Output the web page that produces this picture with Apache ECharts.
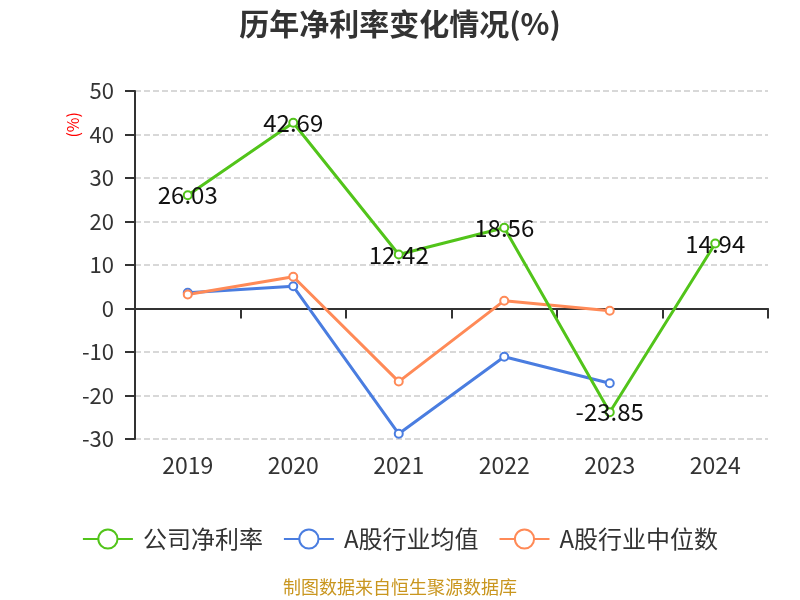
<!DOCTYPE html>
<html><head><meta charset="utf-8">
<script src="https://cdn.jsdelivr.net/npm/echarts@6/dist/echarts.min.js"></script>
<style>html,body{margin:0;padding:0;background:#fff}#c{width:800px;height:600px}</style>
</head><body><div id="c"></div>
<script>
var categories = ['2019','2020','2021','2022','2023','2024'];
var companyRate = [26.03, 42.69, 12.42, 18.56, -23.85, 14.94];
var industryAvg = [3.6, 5.1, -28.8, -11.1, -17.2, null];
var industryMedian = [3.2, 7.3, -16.8, 1.8, -0.5, null];
var yTicks = {min: -30, max: 50, interval: 10};

var chart = echarts.init(document.getElementById('c'));
var font = '"Noto Sans CJK SC", "Noto Sans", sans-serif';
function mk(name, data, color, label) {
  return {
    name: name, type: 'line', data: data, xAxisIndex: 0,
    symbol: 'emptyCircle', symbolSize: 8, connectNulls: false,
    lineStyle: {color: color, width: 3},
    itemStyle: {color: color, borderWidth: 1.5},
    label: label ? {show: true, position: 'inside', color: '#111', fontSize: 24, fontFamily: font} : {show: false},
    z: label ? 3 : 2
  };
}
chart.setOption({
  animation: false,
  textStyle: {fontFamily: font},
  title: {text: '历年净利率变化情况(%)', left: 'center', top: 4,
    textStyle: {fontSize: 30, fontWeight: 'bold', color: '#333', fontFamily: font}},
  legend: {top: 522, left: 'center', itemWidth: 50, itemHeight: 24, itemGap: 20,
    textStyle: {fontSize: 24, color: '#333', fontFamily: font, padding: [0, 0, 0, 5]},
    data: ['公司净利率', 'A股行业均值', 'A股行业中位数']},
  grid: {left: 135, right: 32, top: 91, bottom: 161},
  xAxis: [
    {type: 'category', data: categories, boundaryGap: true,
      axisLine: {onZero: true, lineStyle: {color: '#333', width: 2}},
      axisTick: {show: true, length: 10, lineStyle: {color: '#333', width: 2}},
      axisLabel: {show: false}},
    {type: 'category', data: categories, position: 'bottom', boundaryGap: true,
      axisLine: {show: false, onZero: false}, axisTick: {show: false},
      axisLabel: {fontSize: 23, color: '#333', margin: 15, fontFamily: font}}
  ],
  yAxis: {type: 'value', min: yTicks.min, max: yTicks.max, interval: yTicks.interval,
    axisLine: {show: true, lineStyle: {color: '#333', width: 2}},
    axisTick: {show: true, length: 10, lineStyle: {color: '#333', width: 2}},
    axisLabel: {fontSize: 22, color: '#333', margin: 21, fontFamily: font},
    splitLine: {lineStyle: {type: 'dashed', color: '#ccc', width: 1.5}}},
  graphic: [
    {type: 'text', left: 65, top: 112, rotation: Math.PI / 2,
      style: {text: '(%)', fill: '#ff0000', fontSize: 16, fontFamily: font}},
    {type: 'text', left: 'center', top: 578,
      style: {text: '制图数据来自恒生聚源数据库', fill: '#c9961f', fontSize: 18, fontFamily: font}}
  ],
  series: [
    mk('A股行业均值', industryAvg, '#4a7de0', false),
    mk('A股行业中位数', industryMedian, '#ff8a57', false),
    mk('公司净利率', companyRate, '#52c41a', true)
  ]
});
</script></body></html>
